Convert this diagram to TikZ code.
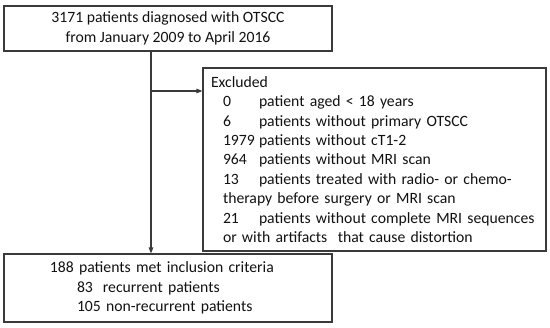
\documentclass[tikz,border=0pt]{standalone}
\usepackage{fontspec}
\setmainfont{Carlito}
\usepackage{xcolor}
\definecolor{FlowLine}{HTML}{3A3A3A}
\definecolor{FlowText}{HTML}{111111}
\usetikzlibrary{arrows.meta, positioning}

\newcommand{\exrow}[2]{\hspace*{12bp}\makebox[36bp][l]{#1}#2}
\newcommand{\exmore}[1]{\hspace*{12bp}#1}

\begin{document}
\begin{tikzpicture}[x=1bp, y=-1bp]
\tikzset{
  flowbox/.style={draw=FlowLine, line width=1.1bp, text=FlowText, inner ysep=0pt,
    font=\fontsize{15.7bp}{19.4bp}\selectfont},
  flowarrow/.style={-{Triangle[length=6bp, width=4.5bp]}, FlowLine, line width=1.1bp},
}
  \useasboundingbox (0,0) rectangle (550,327);

  % Box 1: all diagnosed patients (top)
  \node[flowbox, align=center, minimum width=328bp, minimum height=45bp]
    (diagnosed) at (168, 28.5)
    {3171 patients diagnosed with OTSCC\\from January 2009 to April 2016};

  % Box 2: exclusion reasons (right)
  \node[flowbox, align=left, text width=327bp, inner xsep=8bp,
    minimum height=183bp] (excluded) at (374.5, 159.5)
    {Excluded\\
     \exrow{0}{patient aged < 18 years}\\
     \exrow{6}{patients without primary OTSCC}\\
     \exrow{1979}{patients without cT1-2}\\
     \exrow{964}{patients without MRI scan}\\
     \exrow{13}{patients treated with radio- or chemo-}\\
     \exmore{therapy before surgery or MRI scan}\\
     \exrow{21}{patients without complete MRI sequences}\\
     \exmore{or with artifacts\ \ that cause distortion}};

  % Box 3: included patients (bottom)
  \node[flowbox, align=left, text width=236bp, inner xsep=46bp,
    minimum height=68bp] (included) at (168, 288)
    {188 patients met inclusion criteria\\
     \hspace*{27bp}83\hspace{10bp}recurrent patients\\
     \hspace*{27bp}105 non-recurrent patients};

  % Main flow and branch to exclusions
  \coordinate (trunk) at ([xshift=-17bp]diagnosed.south);
  \coordinate (branch) at (151, 91);
  \draw[flowarrow] (trunk) -- (trunk |- included.north);
  \draw[flowarrow] (branch) -- (branch -| excluded.west);

\end{tikzpicture}
\end{document}
